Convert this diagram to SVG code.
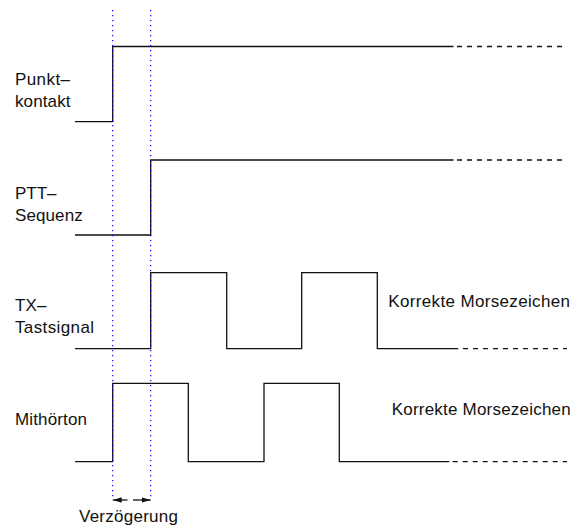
<svg xmlns="http://www.w3.org/2000/svg" width="577" height="529" viewBox="0 0 577 529">
<style>
.bg{fill:#fff}
.sig{fill:none;stroke:#111;stroke-width:1.3}
.dash{fill:none;stroke:#111;stroke-width:1.3;stroke-dasharray:5 5}
.guide{fill:none;stroke:#0000ff;stroke-width:1.2;stroke-dasharray:1.3 3.7}
.dim{fill:none;stroke:#111;stroke-width:1.3}
text{font-family:"Liberation Sans",Arial,Helvetica,sans-serif;font-size:17px;fill:#111}
</style>
<defs>
<marker id="ah" viewBox="0 0 10 6" refX="10" refY="3" markerWidth="9" markerHeight="5.4" markerUnits="userSpaceOnUse" orient="auto">
<path d="M0,0 L10,3 L0,6 z" fill="#111"/>
</marker>
</defs>
<rect class="bg" x="0" y="0" width="577" height="529"/>

<g id="sig-punktkontakt">
<text x="15" y="85" textLength="55">Punkt–</text>
<text x="15" y="106.5" textLength="55.5">kontakt</text>
<path class="sig" d="M75,121.7 H112.7 V46.5 H453.5"/>
<path class="dash" d="M457,46.5 H567"/>
</g>

<g id="sig-ptt">
<text x="15" y="199" textLength="41.5">PTT–</text>
<text x="15" y="220.5" textLength="67.7">Sequenz</text>
<path class="sig" d="M75,235 H150.7 V160 H453.5"/>
<path class="dash" d="M457,160 H567"/>
</g>

<g id="sig-tx">
<text x="15" y="311" textLength="31.5">TX–</text>
<text x="15" y="333" textLength="79">Tastsignal</text>
<path class="sig" d="M75,348.7 H150.7 V272.7 H226.7 V348.7 H301.7 V272.7 H377.3 V348.7 H458.3"/>
<path class="dash" d="M463,348.7 H567"/>
<text x="388.3" y="306.7" textLength="181.7">Korrekte Morsezeichen</text>
</g>

<g id="sig-mithoerton">
<text x="15" y="425" textLength="72">Mithörton</text>
<path class="sig" d="M75,461.7 H112.7 V383.3 H188.3 V461.7 H264 V383.3 H339.3 V461.7 H449.3"/>
<path class="dash" d="M452.7,461.7 H567"/>
<text x="391.7" y="415" textLength="179">Korrekte Morsezeichen</text>
</g>

<g id="connectors">
<path class="guide" d="M112.7,10 V500"/>
<path class="guide" d="M150.7,10 V500"/>
<path class="dim" d="M127.5,500 H112.7" marker-end="url(#ah)"/>
<path class="dim" d="M133,500 H150.7" marker-end="url(#ah)"/>
</g>

<g id="label-verzoegerung">
<text x="79" y="522" textLength="99">Verzögerung</text>
</g>
</svg>
